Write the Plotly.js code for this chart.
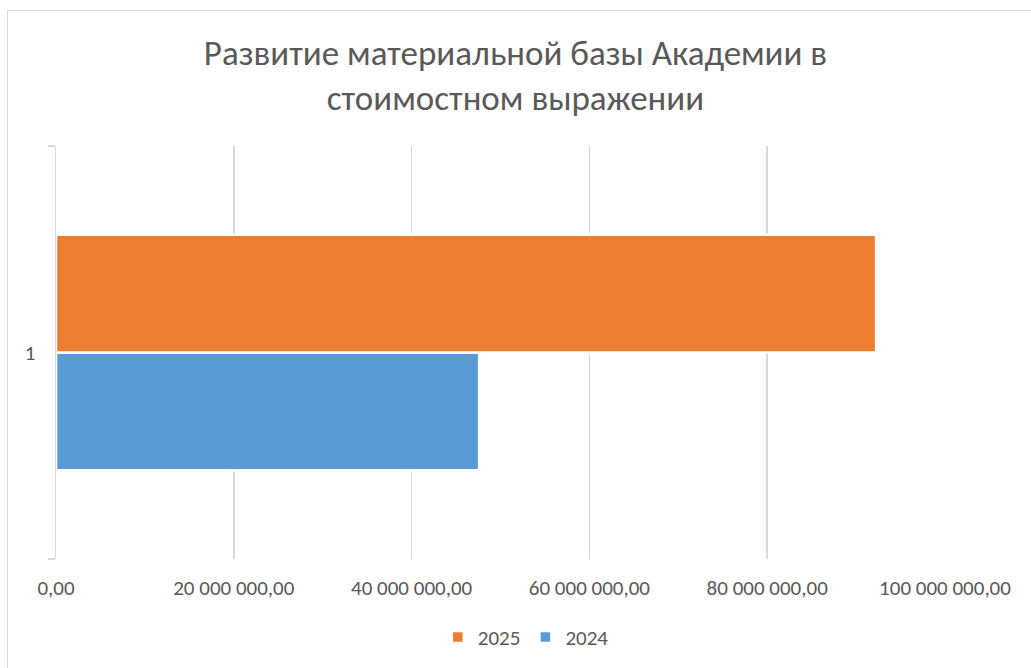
<!DOCTYPE html>
<html>
<head>
<meta charset="utf-8">
<script src="https://cdn.plot.ly/plotly-3.0.1.min.js"></script>
<style>
html,body{margin:0;padding:0;background:#fff;}
#frame{position:absolute;left:7px;top:10px;width:1040px;height:680px;border:1px solid #d9d9d9;box-sizing:border-box;pointer-events:none;z-index:5;}
#chart{position:absolute;left:0;top:0;width:1031px;height:668px;}
</style>
</head>
<body>
<div id="chart"></div>
<div id="frame"></div>
<script>
var categories = ["1"];
var series2024 = [47600000];
var series2025 = [92250000];
var seriesNames = ["2024", "2025"];
var xTickVals = [0, 20000000, 40000000, 60000000, 80000000, 100000000];

var font = "Calibri, Carlito, 'Open Sans', sans-serif";

var traces = [
  {
    type: "bar", orientation: "h", name: seriesNames[0],
    y: categories, x: series2024,
    marker: {color: "#5b9bd5", line: {color: "#ffffff", width: 2.5}},
    hoverinfo: "x+name"
  },
  {
    type: "bar", orientation: "h", name: seriesNames[1],
    y: categories, x: series2025,
    marker: {color: "#ed7d31", line: {color: "#ffffff", width: 2.5}},
    hoverinfo: "x+name"
  }
];

var layout = {
  width: 1031, height: 668,
  paper_bgcolor: "#ffffff", plot_bgcolor: "#ffffff",
  separators: ", ",
  font: {family: font, color: "#595959", size: 21},
  title: {
    text: "Развитие материальной базы Академии в<br>стоимостном выражении",
    font: {family: font, size: 35, color: "#595959"},
    x: 0.5, xanchor: "center", xref: "container",
    y: 0.903, yanchor: "top", yref: "container"
  },
  margin: {l: 56, r: 86, t: 146, b: 109},
  barmode: "group",
  bargap: 0.43,
  bargroupgap: 0,
  xaxis: {
    range: [0, 100000000],
    tickvals: xTickVals,
    tickformat: ",.2f",
    showgrid: true, gridcolor: "#d9d9d9", gridwidth: 1.5,
    zeroline: false, showline: false, ticks: "",
    tickfont: {family: font, size: 21, color: "#595959"},
    ticklabelstandoff: 14,
    fixedrange: true
  },
  yaxis: {
    type: "category",
    tickson: "boundaries",
    ticks: "outside", ticklen: 7, tickcolor: "#d9d9d9", tickwidth: 1.5,
    showline: true, linecolor: "#d9d9d9", linewidth: 1.5,
    showgrid: false, zeroline: false,
    tickfont: {family: font, size: 21, color: "#595959"},
    ticklabelstandoff: 15,
    fixedrange: true
  },
  showlegend: true,
  legend: {
    orientation: "h", traceorder: "reversed",
    x: 0.51, xanchor: "center", xref: "container",
    y: 0.046, yanchor: "middle", yref: "container",
    font: {family: font, size: 21, color: "#595959"},
    itemwidth: 30
  }
};

Plotly.newPlot("chart", traces, layout, {displayModeBar: false, staticPlot: true});
</script>
</body>
</html>
